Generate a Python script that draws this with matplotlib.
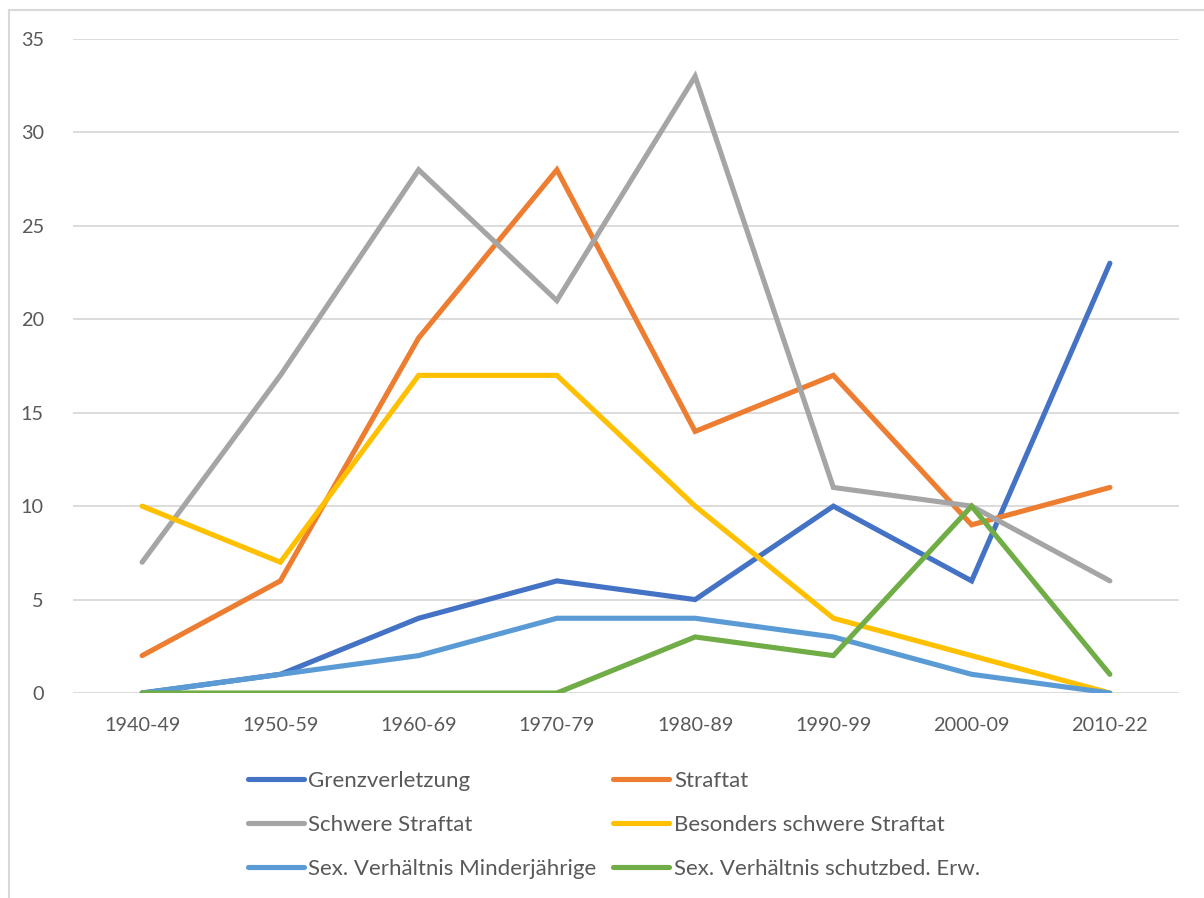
import matplotlib.pyplot as plt
from matplotlib.lines import Line2D

# Jahrzehnte und Fallzahlen je Kategorie
jahrzehnte = ["1940-49", "1950-59", "1960-69", "1970-79", "1980-89", "1990-99", "2000-09", "2010-22"]
grenzverletzung = [0, 1, 4, 6, 5, 10, 6, 23]
straftat = [2, 6, 19, 28, 14, 17, 9, 11]
schwere_straftat = [7, 17, 28, 21, 33, 11, 10, 6]
besonders_schwer = [10, 7, 17, 17, 10, 4, 2, 0]
minderjaehrige = [0, 1, 2, 4, 4, 3, 1, 0]
schutzbed_erw = [0, 0, 0, 0, 3, 2, 10, 1]

namen = ["Grenzverletzung", "Straftat", "Schwere Straftat", "Besonders schwere Straftat",
         "Sex. Verhältnis Minderjährige", "Sex. Verhältnis schutzbed. Erw."]
farben = ["#4472C4", "#ED7D31", "#A5A5A5", "#FFC000", "#5B9BD5", "#70AD47"]
reihen = [grenzverletzung, straftat, schwere_straftat, besonders_schwer, minderjaehrige, schutzbed_erw]

plt.rcParams['font.family'] = ['Lato', 'DejaVu Sans']
textfarbe = "#595959"

fig = plt.figure(figsize=(12.04, 8.98), dpi=100)
ax = fig.add_axes([73/1204, 205/898, (1179-73)/1204, (693-39)/898])

x = list(range(len(jahrzehnte)))
for werte, farbe, name in zip(reihen, farben, namen):
    ax.plot(x, werte, color=farbe, linewidth=3.7, label=name,
            solid_capstyle='round', solid_joinstyle='miter')

ax.set_xlim(-0.5, len(jahrzehnte) - 0.5)
ax.set_ylim(0, 35)
ax.set_yticks(range(0, 36, 5))
ax.set_xticks(x)
ax.set_xticklabels(jahrzehnte)
ax.yaxis.grid(True, color="#D9D9D9", linewidth=1.3)
ax.set_axisbelow(True)
for s in ax.spines.values():
    s.set_visible(False)
ax.tick_params(axis='both', length=0, labelsize=14.3, colors=textfarbe)
ax.tick_params(axis='y', pad=21)
ax.tick_params(axis='x', pad=17)

# Legende in zwei Spalten, zeilenweise wie in Excel
reihenfolge = [0, 2, 4, 1, 3, 5]
griffe = [Line2D([0], [0], color=farben[i], linewidth=3.7, solid_capstyle='round') for i in reihenfolge]
texte = [namen[i] for i in reihenfolge]
fig.legend(griffe, texte, loc='upper left', bbox_to_anchor=(248/1204, 1 - 771/898),
           ncol=2, frameon=False, fontsize=16, labelcolor=textfarbe,
           borderpad=0, borderaxespad=0,
           handlelength=2.5, handletextpad=0.22, columnspacing=0.75, labelspacing=1.08)

# Rahmen des Diagrammbereichs
fig.add_artist(Line2D([9/1204, 9/1204], [0, 1 - 10/898], color="#D9D9D9", linewidth=1.5))
fig.add_artist(Line2D([9/1204, 1], [1 - 10/898, 1 - 10/898], color="#D9D9D9", linewidth=1.5))

fig.savefig("out.png", dpi=100)
